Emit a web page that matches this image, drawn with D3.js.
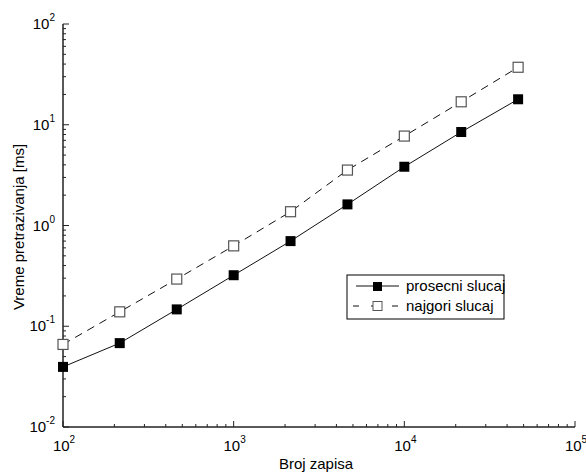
<!DOCTYPE html>
<html>
<head>
<meta charset="utf-8">
<script src="https://cdn.jsdelivr.net/npm/d3@7"></script>
<style>
  body { margin: 0; background: #fff; }
  text { font-family: "Liberation Sans", Arial, sans-serif; }
</style>
</head>
<body>
<script>
// data
var brojZapisa = [100, 215, 464, 1000, 2154, 4642, 10000, 21544, 46416];
var prosecni = [0.0395, 0.068, 0.147, 0.321, 0.70, 1.62, 3.83, 8.47, 17.9];
var najgori = [0.066, 0.139, 0.294, 0.628, 1.37, 3.55, 7.72, 16.9, 37.2];
var xDecades = [2, 3, 4, 5];
var yDecades = [-2, -1, 0, 1, 2];
var seriesNames = ['prosecni slucaj', 'najgori slucaj'];

var width = 586, height = 473;

var svg = d3.select('body').append('svg')
  .attr('width', width)
  .attr('height', height);

var x = d3.scaleLog().domain([1e2, 1e5]).range([63, 575]);
var y = d3.scaleLog().domain([1e-2, 1e2]).range([427, 24]);

// minor ticks 2..9 per decade
var minorTicks = function(decades) {
  var out = [];
  for (var i = 0; i < decades.length - 1; i++) {
    for (var k = 2; k < 10; k++) {
      out.push(k * Math.pow(10, decades[i]));
    }
  }
  return out;
};

var axes = svg.append('g').attr('stroke', '#222').attr('stroke-width', 1);

// x axis
axes.append('line')
  .attr('x1', x.range()[0]).attr('x2', x.range()[1])
  .attr('y1', y.range()[0]).attr('y2', y.range()[0])
  .attr('stroke-width', 1.5);
axes.selectAll('.xmaj').data(xDecades).enter().append('line')
  .attr('x1', function(d) { return x(Math.pow(10, d)); })
  .attr('x2', function(d) { return x(Math.pow(10, d)); })
  .attr('y1', y.range()[0]).attr('y2', y.range()[0] - 6);
axes.selectAll('.xmin').data(minorTicks(xDecades)).enter().append('line')
  .attr('x1', function(d) { return x(d); })
  .attr('x2', function(d) { return x(d); })
  .attr('y1', y.range()[0]).attr('y2', y.range()[0] - 3);

// y axis
axes.append('line')
  .attr('x1', x.range()[0]).attr('x2', x.range()[0])
  .attr('y1', y.range()[0]).attr('y2', y.range()[1])
  .attr('stroke-width', 1.5);
axes.selectAll('.ymaj').data(yDecades).enter().append('line')
  .attr('x1', x.range()[0]).attr('x2', x.range()[0] + 6)
  .attr('y1', function(d) { return y(Math.pow(10, d)); })
  .attr('y2', function(d) { return y(Math.pow(10, d)); });
axes.selectAll('.ymin').data(minorTicks(yDecades)).enter().append('line')
  .attr('x1', x.range()[0]).attr('x2', x.range()[0] + 3)
  .attr('y1', function(d) { return y(d); })
  .attr('y2', function(d) { return y(d); });

// tick labels
var xLab = svg.selectAll('.xlab').data(xDecades).enter().append('text')
  .attr('x', function(d) { return x(Math.pow(10, d)) + 1; })
  .attr('y', 451)
  .attr('text-anchor', 'middle')
  .attr('font-size', 15);
xLab.append('tspan').text('10');
xLab.append('tspan').attr('font-size', 10).attr('dy', -8)
  .text(function(d) { return d; });

var yLab = svg.selectAll('.ylab').data(yDecades).enter().append('text')
  .attr('x', 55)
  .attr('y', function(d) { return y(Math.pow(10, d)) + 5; })
  .attr('text-anchor', 'end')
  .attr('font-size', 15);
yLab.append('tspan').text('10');
yLab.append('tspan').attr('font-size', 10).attr('dy', -8)
  .text(function(d) { return d; });

// axis titles
svg.append('text')
  .attr('x', 316).attr('y', 469)
  .attr('text-anchor', 'middle')
  .attr('font-size', 15)
  .text('Broj zapisa');
svg.append('text')
  .attr('transform', 'translate(24,227) rotate(-90)')
  .attr('text-anchor', 'middle')
  .attr('font-size', 15)
  .text('Vreme pretrazivanja [ms]');

// lines
var line = function(vals) {
  return d3.line()
    .x(function(d, i) { return x(brojZapisa[i]); })
    .y(function(d) { return y(d); })(vals);
};

svg.append('path')
  .attr('d', line(najgori))
  .attr('fill', 'none')
  .attr('stroke', '#111')
  .attr('stroke-width', 1)
  .attr('stroke-dasharray', '8,6');

svg.append('path')
  .attr('d', line(prosecni))
  .attr('fill', 'none')
  .attr('stroke', '#111')
  .attr('stroke-width', 1);

var ms = 10;
svg.selectAll('.open').data(najgori).enter().append('rect')
  .attr('x', function(d, i) { return x(brojZapisa[i]) - ms / 2; })
  .attr('y', function(d) { return y(d) - ms / 2; })
  .attr('width', ms).attr('height', ms)
  .attr('fill', '#fff')
  .attr('stroke', '#555')
  .attr('stroke-width', 1.2);

svg.selectAll('.filled').data(prosecni).enter().append('rect')
  .attr('x', function(d, i) { return x(brojZapisa[i]) - ms / 2; })
  .attr('y', function(d) { return y(d) - ms / 2; })
  .attr('width', ms).attr('height', ms)
  .attr('fill', '#000');

// legend
var leg = svg.append('g');
leg.append('rect')
  .attr('x', 347).attr('y', 275)
  .attr('width', 157).attr('height', 44)
  .attr('fill', '#fff')
  .attr('stroke', '#000')
  .attr('stroke-width', 1);

leg.append('line')
  .attr('x1', 356).attr('x2', 399).attr('y1', 286).attr('y2', 286)
  .attr('stroke', '#111');
leg.append('rect')
  .attr('x', 373).attr('y', 282).attr('width', 9).attr('height', 9)
  .attr('fill', '#000');

leg.append('line')
  .attr('x1', 353).attr('x2', 398).attr('y1', 306).attr('y2', 306)
  .attr('stroke', '#111')
  .attr('stroke-dasharray', '6,12,9,12,6');
leg.append('rect')
  .attr('x', 373).attr('y', 301.5).attr('width', 9).attr('height', 9)
  .attr('fill', '#fff')
  .attr('stroke', '#555');

leg.selectAll('.ltxt').data(seriesNames).enter().append('text')
  .attr('x', 406)
  .attr('y', function(d, i) { return 291 + i * 20; })
  .attr('font-size', 15)
  .text(function(d) { return d; });
</script>
</body>
</html>
